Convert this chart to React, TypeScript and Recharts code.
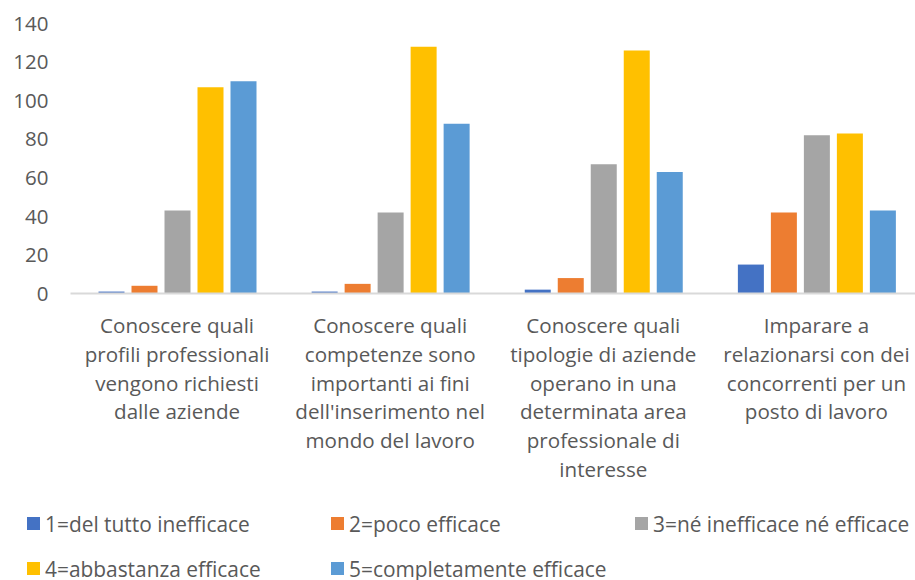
import { Bar, BarChart, Legend, XAxis, YAxis } from "recharts";

const categories = ["Profili", "Competenze", "Tipologie", "Relazionarsi"];

const categoryLines = [
  ["Conoscere quali", "profili professionali", "vengono richiesti", "dalle aziende"],
  ["Conoscere quali", "competenze sono", "importanti ai fini", "dell'inserimento nel", "mondo del lavoro"],
  ["Conoscere quali", "tipologie di aziende", "operano in una", "determinata area", "professionale di", "interesse"],
  ["Imparare a", "relazionarsi con dei", "concorrenti per un", "posto di lavoro"],
];

const seriesNames = [
  "1=del tutto inefficace",
  "2=poco efficace",
  "3=né inefficace né efficace",
  "4=abbastanza efficace",
  "5=completamente efficace",
];

const seriesColors = ["#4472C4", "#ED7D31", "#A5A5A5", "#FFC000", "#5B9BD5"];

const s1 = [1, 1, 2, 15];
const s2 = [4, 5, 8, 42];
const s3 = [43, 42, 67, 82];
const s4 = [107, 128, 126, 83];
const s5 = [110, 88, 63, 43];

const yTicks = [0, 20, 40, 60, 80, 100, 120, 140];

const seriesValues = [s1, s2, s3, s4, s5];

const data = categories.map((cat, i) => {
  const row: Record<string, number | string> = { cat };
  seriesNames.forEach((name, k) => {
    row[name] = seriesValues[k][i];
  });
  return row;
});

const FONT = "'Open Sans', sans-serif";
const TEXT = "#595959";

function CategoryTick(props: any) {
  const { x, y, payload } = props;
  const idx = categories.indexOf(payload.value);
  const lines = categoryLines[idx] ?? [];
  return (
    <text x={x} y={y} textAnchor="middle" fill={TEXT} fontSize={20.6} fontFamily={FONT}>
      {lines.map((line, i) => (
        <tspan key={i} x={x} y={y + 37.5 + i * 28.8}>
          {line}
        </tspan>
      ))}
    </text>
  );
}

function LegendBox(props: any) {
  const items = props.payload ?? [];
  return (
    <div
      style={{
        height: 80,
        paddingTop: 1,
        paddingLeft: 27,
        boxSizing: "border-box",
        display: "grid",
        gridTemplateColumns: "304px 304px 300px",
        gridAutoRows: "45px",
        fontFamily: FONT,
        fontSize: 20.9,
        color: TEXT,
      }}
    >
      {items.map((it: any) => (
        <div key={it.value} style={{ display: "flex", alignItems: "center", whiteSpace: "nowrap" }}>
          <span style={{ width: 13, height: 13, background: it.color, marginRight: 5, flex: "none" }} />
          <span>{it.value}</span>
        </div>
      ))}
    </div>
  );
}

export default function App() {
  return (
    <div style={{ width: 915, height: 580, overflow: "hidden", background: "#fff" }}>
      <style>{"body{margin:0}"}</style>
      <BarChart
        width={923}
        height={580}
        data={data}
        margin={{ top: 23.5, right: 0, bottom: 0, left: 0 }}
        barSize={26}
        barGap={7}
      >
        <XAxis
          dataKey="cat"
          height={206.5}
          interval={0}
          tickLine={false}
          tickSize={0}
          stroke="#D9D9D9"
          strokeWidth={2}
          tick={<CategoryTick />}
        />
        <YAxis
          width={70.5}
          domain={[0, 140]}
          ticks={yTicks}
          axisLine={false}
          tickLine={false}
          tickSize={0}
          tickMargin={22}
          tick={{ fill: TEXT, fontSize: 20.5, fontFamily: FONT }}
        />
        <Legend verticalAlign="bottom" content={<LegendBox />} />
        {seriesNames.map((name, k) => (
          <Bar key={name} dataKey={name} fill={seriesColors[k]} isAnimationActive={false} />
        ))}
      </BarChart>
    </div>
  );
}
